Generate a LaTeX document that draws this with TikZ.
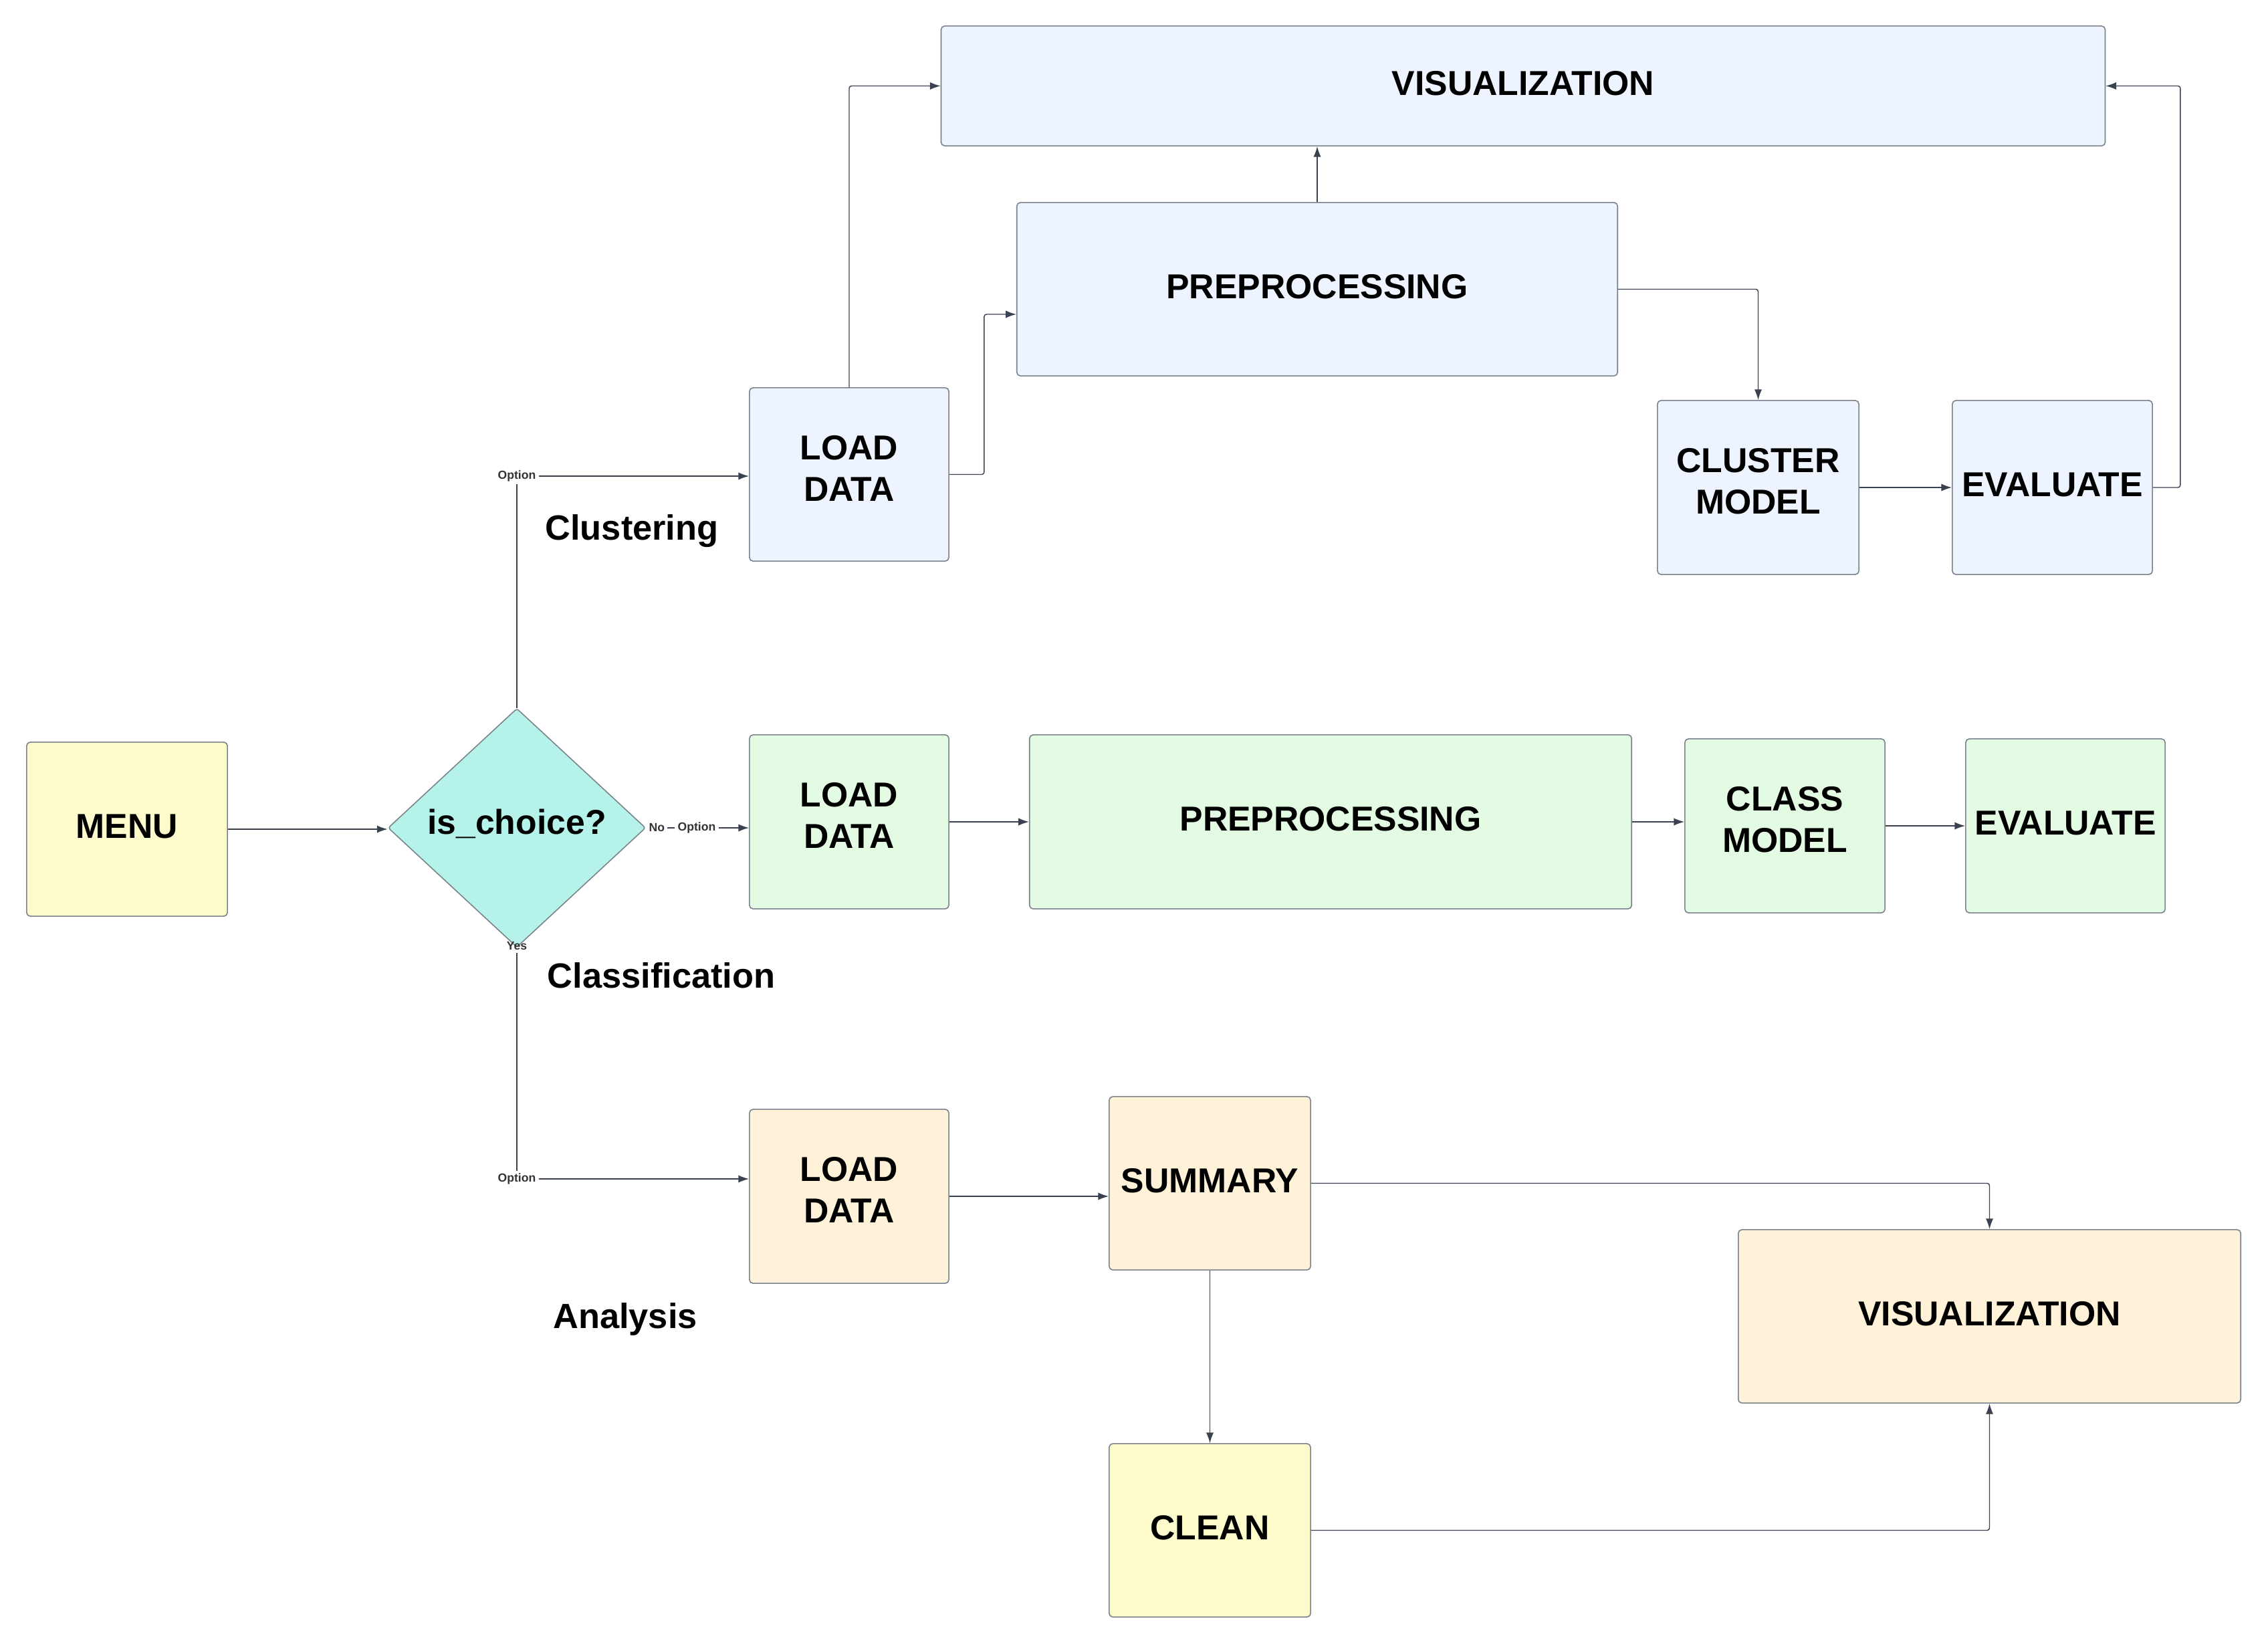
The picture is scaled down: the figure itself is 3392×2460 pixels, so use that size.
\documentclass[tikz,border=0pt]{standalone}
\usepackage{fontspec}
\setmainfont{Liberation Sans}
\usetikzlibrary{arrows.meta,shapes.geometric}
\definecolor{blueF}{HTML}{EDF4FF}
\definecolor{greenF}{HTML}{E3FAE3}
\definecolor{orangeF}{HTML}{FFF2D9}
\definecolor{yellowF}{HTML}{FDFACB}
\definecolor{diaF}{HTML}{B5F3EA}
\definecolor{bordC}{HTML}{7A828C}
\definecolor{arrC}{HTML}{3A4150}
\definecolor{optC}{HTML}{333333}
\begin{document}
\begin{tikzpicture}[x=0.01cm,y=-0.01cm,
  box/.style={draw=bordC, line width=0.45pt, rounded corners=1.5pt, inner sep=0pt, align=center,
    font=\bfseries\fontsize{14.7}{17.6}\selectfont, text=black, text depth=2.4pt},
  twoline/.style={text depth=5.2pt},
  dia/.style={diamond, draw=bordC, line width=0.45pt, inner sep=0pt, fill=diaF, rounded corners=1pt,
    font=\bfseries\fontsize{14.7}{17.6}\selectfont, text depth=5pt},
  lab/.style={font=\bfseries\fontsize{14.9}{17.6}\selectfont, inner sep=0pt},
  opt/.style={font=\bfseries\fontsize{5}{6}\selectfont, text=optC, inner sep=1pt},
  ln/.style={draw=arrC, line width=0.4pt, rounded corners=1pt},
  arr/.style={ln, -{Latex[length=4.5pt,width=3.2pt]}}]
\useasboundingbox (0,0) rectangle (3392,2460);

% left
\node[box, fill=yellowF, minimum width=3.00cm, minimum height=2.60cm] (menu) at (190,1240) {MENU};
\node[dia, minimum width=3.85cm, minimum height=3.57cm] (d) at (773,1238) {is\_choice?};

% top row (clustering)
\node[box, fill=blueF, minimum width=17.40cm, minimum height=1.79cm] (vis1) at (2278,128.5) {VISUALIZATION};
\node[box, fill=blueF, minimum width=8.98cm, minimum height=2.59cm] (p1) at (1970,432.5) {PREPROCESSING};
\node[box, twoline, fill=blueF, minimum width=2.98cm, minimum height=2.59cm] (l1) at (1270,709.5) {LOAD\\DATA};
\node[box, twoline, fill=blueF, minimum width=3.01cm, minimum height=2.60cm] (c1) at (2629.5,729) {CLUSTER\\MODEL};
\node[box, fill=blueF, minimum width=2.99cm, minimum height=2.60cm] (e1) at (3069.5,729) {EVALUATE};

% middle row (classification)
\node[box, twoline, fill=greenF, minimum width=2.98cm, minimum height=2.60cm] (l2) at (1270,1229) {LOAD\\DATA};
\node[box, fill=greenF, minimum width=9.00cm, minimum height=2.60cm] (p2) at (1990,1229) {PREPROCESSING};
\node[box, twoline, fill=greenF, minimum width=2.99cm, minimum height=2.60cm] (cl) at (2669.5,1235) {CLASS\\MODEL};
\node[box, fill=greenF, minimum width=2.98cm, minimum height=2.60cm] (e2) at (3089,1235) {EVALUATE};

% bottom row (analysis)
\node[box, twoline, fill=orangeF, minimum width=2.98cm, minimum height=2.60cm] (l3) at (1270,1789) {LOAD\\DATA};
\node[box, fill=orangeF, minimum width=3.01cm, minimum height=2.59cm] (s) at (1809.5,1769.5) {SUMMARY};
\node[box, fill=orangeF, minimum width=7.51cm, minimum height=2.59cm] (v2) at (2975.5,1968.5) {VISUALIZATION};
\node[box, fill=yellowF, minimum width=3.01cm, minimum height=2.59cm] (cn) at (1809.5,2288.5) {CLEAN};

% branch labels
\node[lab] (tclu) at (945,794) {Clustering};
\node[lab] (tcla) at (989,1459) {Classification};
\node[lab] (tana) at (935,1973) {Analysis};

% edge labels
\node[opt] (o1) at (773,712) {Option};
\node[opt, anchor=west] (no) at (d.east) {No};
\node[opt] (o2) at (1042,1238) {Option};
\node[opt] (yes) at (773,1415) {Yes};
\node[opt] (o3) at (773,1763) {Option};

% connectors from menu / decision
\draw[arr] (menu.east) -- (menu.east -| d.west);
\draw[ln] (d.north) -- (o1.south);
\draw[arr] (o1.east) -- (o1.east -| l1.west);
\draw[ln] (no.east) -- (o2.west);
\draw[arr] (o2.east) -- (o2.east -| l2.west);
\draw[ln] (yes.south) -- (o3.north);
\draw[arr] (o3.east) -- (o3.east -| l3.west);

% clustering
\draw[arr] (l1.north) |- (vis1.west);
\draw[arr] (l1.east) -- ++(52,0) |- ([yshift=-0.375cm]p1.west);
\draw[arr] (p1.north) -- (p1.north |- vis1.south);
\draw[arr] (p1.east) -| (c1.north);
\draw[arr] (c1.east) -- (e1.west);
\draw[arr] (e1.east) -- ++(41,0) |- (vis1.east);

% classification
\draw[arr] (l2.east) -- (p2.west);
\draw[arr] (p2.east) -- (p2.east -| cl.west);
\draw[arr] (cl.east) -- (cl.east -| e2.west);

% analysis
\draw[arr] (l3.east) -- (l3.east -| s.west);
\draw[arr] (s.east) -| (v2.north);
\draw[arr] (s.south) -- (cn.north);
\draw[arr] (cn.east) -| (v2.south);
\end{tikzpicture}
\end{document}
